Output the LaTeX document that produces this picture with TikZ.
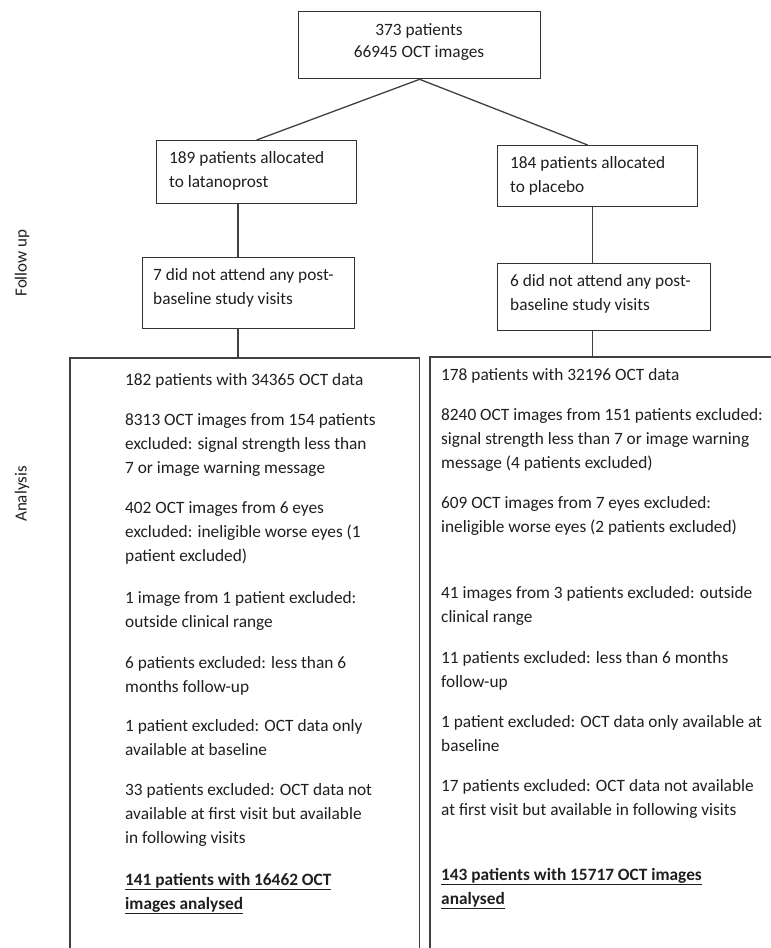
\documentclass[tikz,border=0pt]{standalone}
\usepackage{fontspec}
\setmainfont{Carlito}
\usetikzlibrary{calc}
\begin{document}
\begin{tikzpicture}[x=1pt,y=-1pt,
  frame/.style={draw=black!80,line width=1.3pt,anchor=north west,inner sep=0pt},
  txt/.style={anchor=base west,align=left,inner sep=0pt,font=\fontsize{17.3}{24}\selectfont,text=black!88},
  side/.style={rotate=90,inner sep=0pt,font=\fontsize{17}{20}\selectfont,text=black!88},
  link/.style={draw=black!75,line width=1.3pt}]
\path[use as bounding box] (0,0) rectangle (771,948);
% boxes
\node[frame,minimum width=242pt,minimum height=67pt] (top) at (298,11) {};
\node[frame,minimum width=200pt,minimum height=63pt] (B1) at (156,140) {};
\node[frame,minimum width=200pt,minimum height=61pt] (B2) at (497,145) {};
\node[frame,minimum width=212pt,minimum height=71pt] (C1) at (142,257) {};
\node[frame,minimum width=213pt,minimum height=67pt] (C2) at (497,263) {};
\node[anchor=north west,inner sep=0pt,minimum width=349pt,minimum height=600pt] (L3) at (70,358) {};
\node[anchor=north west,inner sep=0pt,minimum width=345pt,minimum height=600pt] (R3) at (430,357) {};
% texts (anchor = baseline of the last line)
\node[txt,anchor=base,align=center,font=\fontsize{17.3}{22}\selectfont] (toptxt) at (419,57) {373 patients\\66945 OCT images};
\node[txt] (b1t) at (169,187) {189 patients allocated\\to latanoprost};
\node[txt] (b2t) at (510,192) {184 patients allocated\\to placebo};
\node[txt] (c1t) at (153,304) {7 did not attend any post-\\baseline study visits};
\node[txt] (c2t) at (510,310) {6 did not attend any post-\\baseline study visits};
% left analysis
\node[txt] (l1) at (125,385) {182 patients with 34365 OCT data};
\node[txt] (l2) at (125,473) {8313 OCT images from 154 patients\\excluded: signal strength less than\\7 or image warning message};
\node[txt] (l3) at (125,561) {402 OCT images from 6 eyes\\excluded: ineligible worse eyes (1\\patient excluded)};
\node[txt] (l4) at (125,627) {1 image from 1 patient excluded:\\outside clinical range};
\node[txt] (l5) at (125,692) {6 patients excluded: less than 6\\months follow-up};
\node[txt] (l6) at (125,755) {1 patient excluded: OCT data only\\available at baseline};
\node[txt] (l7) at (125,843) {33 patients excluded: OCT data not\\available at first visit but available\\in following visits};
\node[txt] (l8) at (125,909) {\bfseries\underline{141 patients with 16462 OCT}\\\bfseries\underline{images analysed}};
% right analysis
\node[txt] (r1) at (441,380) {178 patients with 32196 OCT data};
\node[txt] (r2) at (441,468) {8240 OCT images from 151 patients excluded:\\signal strength less than 7 or image warning\\message (4 patients excluded)};
\node[txt] (r3) at (441,532) {609 OCT images from 7 eyes excluded:\\ineligible worse eyes (2 patients excluded)};
\node[txt] (r4) at (441,622) {41 images from 3 patients excluded: outside\\clinical range};
\node[txt] (r5) at (441,687) {11 patients excluded: less than 6 months\\follow-up};
\node[txt] (r6) at (441,751) {1 patient excluded: OCT data only available at\\baseline};
\node[txt] (r7) at (441,815) {17 patients excluded: OCT data not available\\at first visit but available in following visits};
\node[txt] (r8) at (441,904) {\bfseries\underline{143 patients with 15717 OCT images}\\\bfseries\underline{analysed}};
% side labels
\node[side] (fu) at (22,263) {Follow up};
\node[side] (an) at (22,494) {Analysis};
% connectors
\coordinate (lx) at (238,0);
\coordinate (rx) at (592.5,0);
\draw[link] (top.south) -- (B1.north);
\draw[link] (top.south) -- ($(B2.north)+(-10,0)$);
\draw[link] (B1.south -| lx) -- (C1.north -| lx);
\draw[link] (C1.south -| lx) -- (L3.north -| lx);
\draw[link] (B2.south -| rx) -- (C2.north -| rx);
\draw[link] (C2.south -| rx) -- (R3.north -| rx);
\draw[link] (L3.south west) -- (L3.north west) -- (L3.north east) -- (L3.south east);
\draw[link] (R3.south west) -- (R3.north west) -- (R3.north east);
\end{tikzpicture}
\end{document}
